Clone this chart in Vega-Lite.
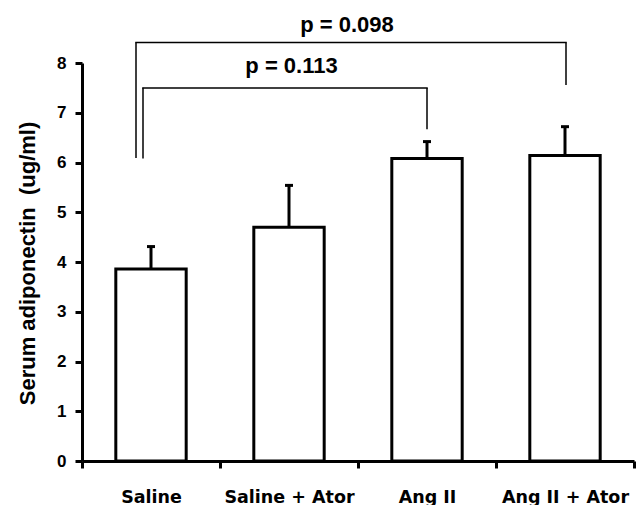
{
  "$schema": "https://vega.github.io/schema/vega-lite/v6.json",
  "width": 552,
  "height": 398,
  "autosize": {"type": "none"},
  "padding": {"left": 82, "top": 63, "right": 4, "bottom": 44},
  "background": "white",
  "config": {"view": {"stroke": null}},
  "datasets": {
    "bars": [
      {"group": "Saline", "mean": 3.86, "upper": 4.31},
      {"group": "Saline + Ator", "mean": 4.70, "upper": 5.54},
      {"group": "Ang II", "mean": 6.08, "upper": 6.42},
      {"group": "Ang II + Ator", "mean": 6.14, "upper": 6.72}
    ],
    "brackets": [
      {"id": "inner", "from": "Saline", "to": "Ang II", "level": 7.50, "fromEnd": 6.08, "toEnd": 6.67, "label": "p = 0.113"},
      {"id": "outer", "from": "Saline", "to": "Ang II + Ator", "level": 8.41, "fromEnd": 6.09, "toEnd": 7.56, "label": "p = 0.098"}
    ]
  },
  "encoding": {
    "x": {
      "field": "group",
      "type": "nominal",
      "scale": {"domain": ["Saline", "Saline + Ator", "Ang II", "Ang II + Ator"], "paddingInner": 0, "paddingOuter": 0},
      "axis": {
        "title": null,
        "labelAngle": 0,
        "labelFont": "DejaVu Sans",
        "labelFontWeight": "bold",
        "labelFontSize": 17.5,
        "labelColor": "black",
        "labelPadding": 20,
        "tickBand": "extent",
        "tickSize": 7,
        "tickWidth": 3,
        "tickColor": "black",
        "domainWidth": 3,
        "domainColor": "black"
      }
    }
  },
  "layer": [
    {
      "data": {"name": "bars"},
      "mark": {"type": "bar", "fill": "white", "stroke": "black", "strokeWidth": 3, "width": {"band": 0.51}},
      "encoding": {
        "y": {
          "field": "mean",
          "type": "quantitative",
          "scale": {"domain": [0, 8], "nice": false, "zero": true},
          "axis": {
            "title": "Serum adiponectin\u00a0 (ug/ml)",
            "titleFont": "Liberation Sans",
            "titleFontWeight": "bold",
            "titleFontSize": 22,
            "titleColor": "black",
            "titleAngle": 270,
            "titleX": -48,
            "titleY": 200,
            "titleAlign": "center",
            "titleBaseline": "alphabetic",
            "values": [0, 1, 2, 3, 4, 5, 6, 7, 8],
            "grid": false,
            "labelFont": "Liberation Sans",
            "labelFontWeight": "bold",
            "labelFontSize": 17,
            "labelColor": "black",
            "labelPadding": 9,
            "tickSize": 7,
            "tickWidth": 3,
            "tickColor": "black",
            "domainWidth": 3,
            "domainColor": "black"
          }
        }
      }
    },
    {
      "data": {"name": "bars"},
      "mark": {"type": "rule", "stroke": "black", "strokeWidth": 3},
      "encoding": {
        "y": {"field": "mean", "type": "quantitative"},
        "y2": {"field": "upper"}
      }
    },
    {
      "data": {"name": "bars"},
      "mark": {"type": "tick", "color": "black", "orient": "horizontal", "size": 8, "thickness": 3, "opacity": 1},
      "encoding": {
        "y": {"field": "upper", "type": "quantitative"}
      }
    },
    {
      "data": {"name": "brackets"},
      "transform": [{"filter": "datum.id === 'inner'"}],
      "layer": [
        {
          "mark": {"type": "rule", "stroke": "black", "strokeWidth": 1.5, "xOffset": -8},
          "encoding": {"x": {"field": "from", "type": "nominal"}, "y": {"field": "fromEnd", "type": "quantitative"}, "y2": {"field": "level"}}
        },
        {
          "mark": {"type": "rule", "stroke": "black", "strokeWidth": 1.5},
          "encoding": {"x": {"field": "to", "type": "nominal"}, "y": {"field": "toEnd", "type": "quantitative"}, "y2": {"field": "level"}}
        },
        {
          "mark": {"type": "rule", "stroke": "black", "strokeWidth": 1.5, "xOffset": -8.75, "x2Offset": 0.75},
          "encoding": {"x": {"field": "from", "type": "nominal"}, "x2": {"field": "to"}, "y": {"field": "level", "type": "quantitative"}}
        },
        {
          "mark": {"type": "text", "font": "Liberation Sans", "fontWeight": "bold", "fontSize": 22, "color": "black", "align": "center", "baseline": "alphabetic", "dy": -14.5, "xOffset": 2.5},
          "encoding": {"x": {"datum": "Saline + Ator", "type": "nominal"}, "y": {"field": "level", "type": "quantitative"}, "text": {"field": "label"}}
        }
      ]
    },
    {
      "data": {"name": "brackets"},
      "transform": [{"filter": "datum.id === 'outer'"}],
      "layer": [
        {
          "mark": {"type": "rule", "stroke": "black", "strokeWidth": 1.5, "xOffset": -15},
          "encoding": {"x": {"field": "from", "type": "nominal"}, "y": {"field": "fromEnd", "type": "quantitative"}, "y2": {"field": "level"}}
        },
        {
          "mark": {"type": "rule", "stroke": "black", "strokeWidth": 1.5, "xOffset": 1},
          "encoding": {"x": {"field": "to", "type": "nominal"}, "y": {"field": "toEnd", "type": "quantitative"}, "y2": {"field": "level"}}
        },
        {
          "mark": {"type": "rule", "stroke": "black", "strokeWidth": 1.5, "xOffset": -15.75, "x2Offset": 1.75},
          "encoding": {"x": {"field": "from", "type": "nominal"}, "x2": {"field": "to"}, "y": {"field": "level", "type": "quantitative"}}
        },
        {
          "mark": {"type": "text", "font": "Liberation Sans", "fontWeight": "bold", "fontSize": 22, "color": "black", "align": "center", "baseline": "alphabetic", "dy": -11, "xOffset": -80},
          "encoding": {"x": {"datum": "Ang II", "type": "nominal"}, "y": {"field": "level", "type": "quantitative"}, "text": {"field": "label"}}
        }
      ]
    }
  ]
}
